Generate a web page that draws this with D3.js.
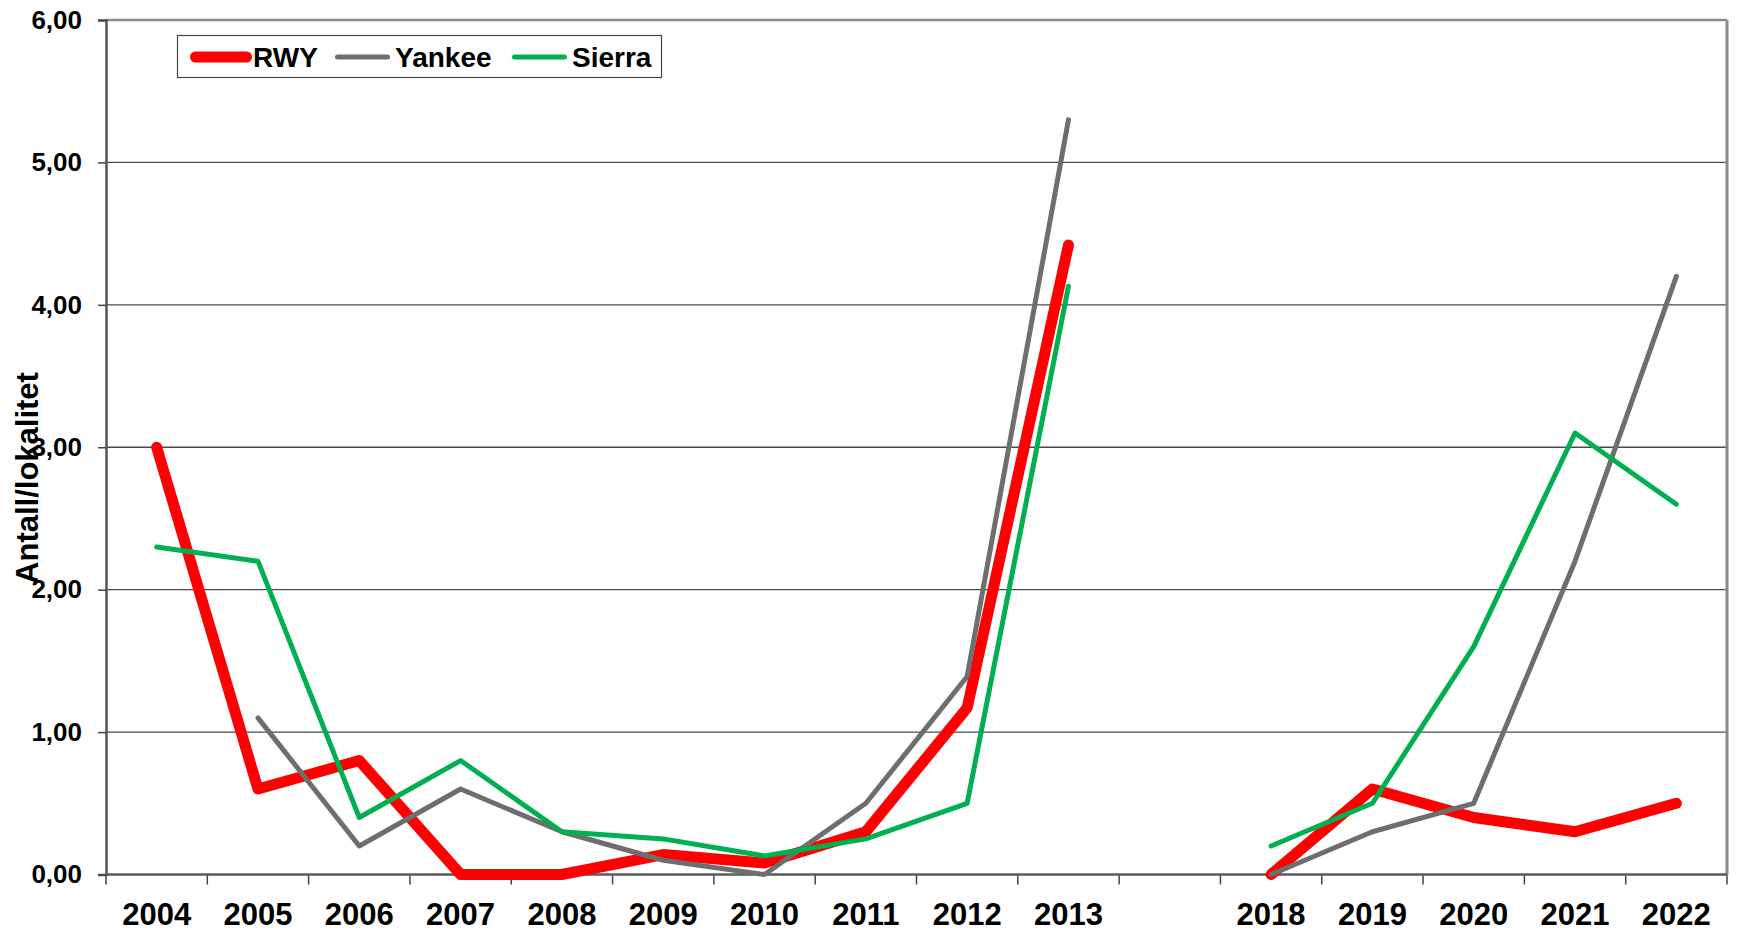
<!DOCTYPE html>
<html>
<head>
<meta charset="utf-8">
<script src="https://cdn.jsdelivr.net/npm/d3@7"></script>
<style>
  html, body { margin: 0; padding: 0; background: #ffffff; }
  svg { display: block; }
  text { font-family: "Liberation Sans", Arial, sans-serif; font-weight: bold; fill: #000; }
</style>
</head>
<body>
<svg id="chart" width="1738" height="930"></svg>
<script>
// ---- data ----
const categories = ["2004","2005","2006","2007","2008","2009","2010","2011","2012","2013","","2018","2019","2020","2021","2022"];
const rwy    = [3.00, 0.60, 0.80, 0.00, 0.00, 0.14, 0.08, 0.30, 1.17, 4.42, null, 0.00, 0.60, 0.40, 0.30, 0.50];
const yankee = [null, 1.10, 0.20, 0.60, 0.30, 0.10, 0.00, 0.50, 1.39, 5.30, null, 0.00, 0.30, 0.50, 2.20, 4.20];
const sierra = [2.30, 2.20, 0.40, 0.80, 0.30, 0.25, 0.13, 0.25, 0.50, 4.13, null, 0.20, 0.50, 1.60, 3.10, 2.60];
const yTicks = [0, 1, 2, 3, 4, 5, 6];
const seriesNames = ["RWY", "Yankee", "Sierra"];
const yTitle = "Antall/lokalitet";

// ---- layout ----
const L = 106, R = 1727, T = 20, B = 874.5;
const svg = d3.select("#chart");

const x = d3.scaleBand().domain(d3.range(categories.length)).range([L, R]).padding(0);
const y = d3.scaleLinear().domain([0, 6]).range([B, T]);

const series = [
  { name: seriesNames[0], values: rwy,    color: "#ff0000", width: 11 },
  { name: seriesNames[1], values: yankee, color: "#6e6e6e", width: 5 },
  { name: seriesNames[2], values: sierra, color: "#00b050", width: 5 }
];

// gridlines
svg.append("g").selectAll("line").data(yTicks.filter(d => d > 0 && d < 6)).join("line")
  .attr("x1", L).attr("x2", R)
  .attr("y1", d => y(d)).attr("y2", d => y(d))
  .attr("stroke", "#4a4a4a").attr("stroke-width", 1.3);

// top and right border
svg.append("line").attr("x1", L).attr("x2", R).attr("y1", y(6)).attr("y2", y(6))
  .attr("stroke", "#8a8a8a").attr("stroke-width", 2.6);
svg.append("line").attr("x1", R).attr("x2", R).attr("y1", y(6)).attr("y2", y(0))
  .attr("stroke", "#8a8a8a").attr("stroke-width", 3);

// y axis
const yAxis = svg.append("g").attr("transform", `translate(${L},0)`)
  .call(d3.axisLeft(y).tickValues(yTicks).tickSize(8).tickPadding(16)
    .tickFormat(d => d.toFixed(2).replace(".", ",")));
yAxis.select(".domain").attr("stroke", "#555").attr("stroke-width", 2.5);
yAxis.selectAll(".tick line").attr("stroke", "#444").attr("stroke-width", 1.5);
yAxis.selectAll("text").style("font-size", "26px").attr("fill", "#000");

// x axis
const xAxis = svg.append("g").attr("transform", `translate(0,${B})`)
  .call(d3.axisBottom(x).tickSize(0).tickFormat(i => categories[i]));
xAxis.select(".domain").remove();
xAxis.selectAll("text").style("font-size", "31px").attr("fill", "#000")
  .attr("y", 50).attr("dy", null);
// boundary tick marks
const bounds = d3.range(categories.length).map(i => x(i)).concat([x(categories.length - 1) + x.bandwidth()]);
svg.append("g").selectAll("line").data(bounds).join("line")
  .attr("x1", d => d).attr("x2", d => d).attr("y1", B).attr("y2", B + 10)
  .attr("stroke", "#444").attr("stroke-width", 1.5);
svg.append("line").attr("x1", L).attr("x2", R).attr("y1", B).attr("y2", B)
  .attr("stroke", "#5a5a5a").attr("stroke-width", 2.5);

// lines
const line = d3.line()
  .defined(d => d.v != null)
  .x(d => x(d.i) + x.bandwidth() / 2)
  .y(d => y(d.v));

series.forEach(s => {
  svg.append("path")
    .datum(s.values.map((v, i) => ({ i, v })))
    .attr("fill", "none")
    .attr("stroke", s.color)
    .attr("stroke-width", s.width)
    .attr("stroke-linecap", "round")
    .attr("stroke-linejoin", "round")
    .attr("d", line);
});

// y title
svg.append("text")
  .attr("transform", "translate(38,478) rotate(-90)")
  .attr("text-anchor", "middle")
  .style("font-size", "31px")
  .text(yTitle);

// legend
const lg = svg.append("g");
lg.append("rect").attr("x", 177.5).attr("y", 35.5).attr("width", 484).attr("height", 42)
  .attr("fill", "#fff").attr("stroke", "#444").attr("stroke-width", 1.2);
const legendPos = [
  { x1: 190, x2: 252, tx: 253 },
  { x1: 335, x2: 390, tx: 395 },
  { x1: 512, x2: 567, tx: 572 }
];
series.forEach((s, k) => {
  const p = legendPos[k];
  lg.append("line").attr("x1", p.x1 + s.width / 2).attr("x2", p.x2 - s.width / 2)
    .attr("y1", 57).attr("y2", 57)
    .attr("stroke", s.color).attr("stroke-width", s.width).attr("stroke-linecap", "round");
  lg.append("text").attr("x", p.tx).attr("y", 57).attr("dy", "0.36em")
    .style("font-size", "28px").text(s.name);
});
</script>
</body>
</html>
